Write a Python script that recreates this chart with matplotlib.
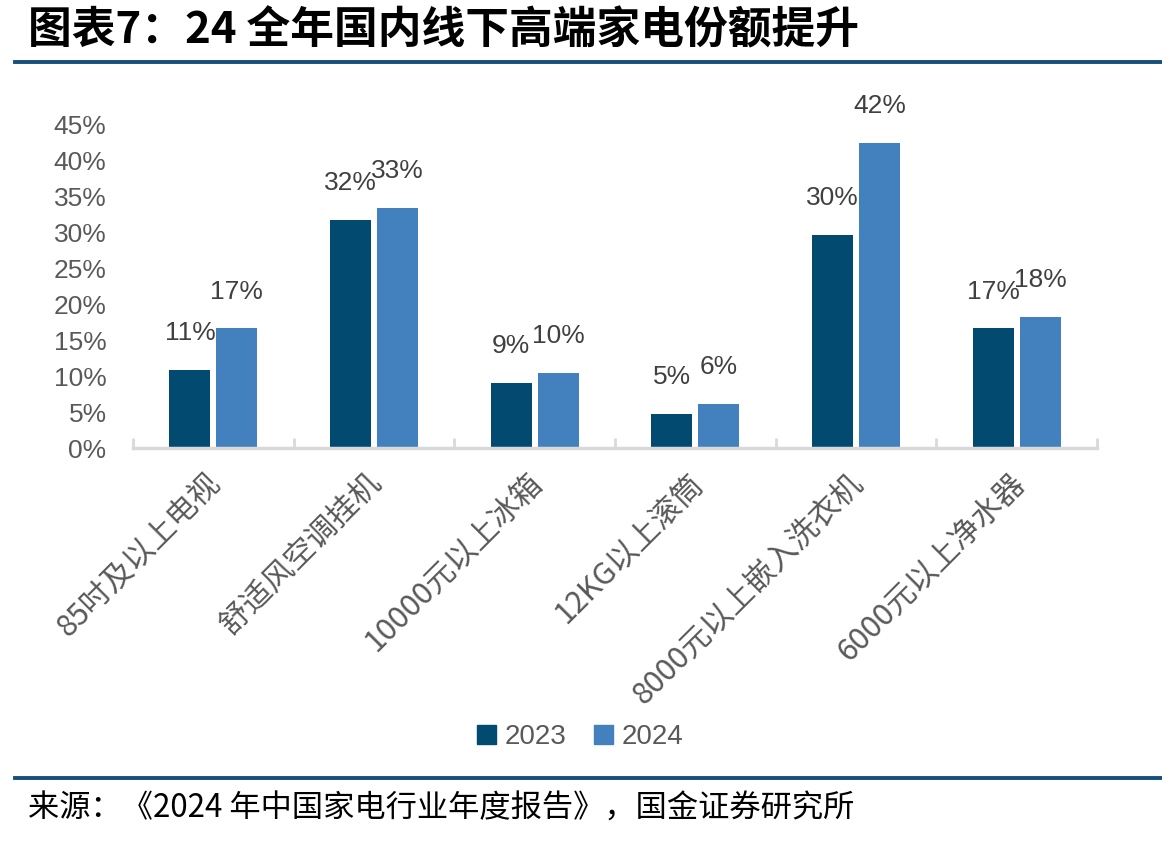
import numpy as np
import matplotlib.pyplot as plt
from matplotlib.lines import Line2D
from matplotlib.patches import Patch

categories = ["85吋及以上电视", "舒适风空调挂机", "10000元以上冰箱", "12KG以上滚筒", "8000元以上嵌入洗衣机", "6000元以上净水器"]
share_2023 = [10.9, 31.7, 9.0, 4.7, 29.6, 16.6]
share_2024 = [16.6, 33.4, 10.4, 6.1, 42.4, 18.2]
series_names = ["2023", "2024"]
yticks = [0, 5, 10, 15, 20, 25, 30, 35, 40, 45]

dark = "#024A70"
light = "#4380BE"
num_font = ["Liberation Sans Narrow", "Liberation Sans", "DejaVu Sans"]
cjk_font = ["Noto Sans CJK SC", "DejaVu Sans"]

fig = plt.figure(figsize=(11.62, 8.41), dpi=100)
ax = fig.add_axes([133/1162, 1-448/841, (1097-133)/1162, (448-124)/841])

x = np.arange(len(categories))
w = 0.255
off = 0.146
b1 = ax.bar(x - off, share_2023, w, color=dark)
b2 = ax.bar(x + off, share_2024, w, color=light)

for bars, vals in [(b1, share_2023), (b2, share_2024)]:
    for rect, v in zip(bars, vals):
        ax.annotate(f"{v:.0f}%", (rect.get_x() + rect.get_width()/2, v),
                    xytext=(0, 26.5), textcoords="offset points",
                    ha="center", va="center", fontsize=19, color="#404040",
                    family=num_font, annotation_clip=False)

ax.set_xlim(-0.5, len(categories) - 0.5)
ax.set_ylim(0, 45)
ax.set_yticks(yticks)
ax.set_yticklabels([f"{t}%" for t in yticks], family=num_font, fontsize=19, color="#595959")
ax.tick_params(axis="y", length=0, pad=19)

ax.set_xticks(x)
ax.set_xticklabels([])
ax.tick_params(axis="x", which="major", length=0)
ax.set_xticks(np.arange(-0.5, len(categories)), minor=True)
ax.tick_params(axis="x", which="minor", direction="in", length=7, width=2, color="#D9D9D9")

for i, c in enumerate(categories):
    ax.annotate(c, (i, 0), xytext=(2, -22), textcoords="offset points",
                rotation=45, rotation_mode="anchor", ha="right", va="center",
                fontsize=22, color="#595959", family=cjk_font, annotation_clip=False)

for s in ["top", "right", "left"]:
    ax.spines[s].set_visible(False)
ax.spines["bottom"].set_color("#D9D9D9")
ax.spines["bottom"].set_linewidth(2.5)

handles = [Patch(color=dark), Patch(color=light)]
leg = fig.legend(handles, series_names, loc="center", bbox_to_anchor=(580/1162, 1-737/841),
                 ncol=2, frameon=False, handlelength=0.7, handleheight=0.7,
                 handletextpad=0.3, columnspacing=1.0,
                 prop={"family": num_font, "size": 20})
for t in leg.get_texts():
    t.set_color("#595959")

fig.text(28/1162, 1-30/841, "图表7：24 全年国内线下高端家电份额提升", fontsize=31.5,
         fontweight="bold", family=cjk_font, ha="left", va="center", color="black")
fig.add_artist(Line2D([15/1162, 1], [1-62/841, 1-62/841], color="#16507A", lw=2.8))
fig.add_artist(Line2D([15/1162, 1], [1-778/841, 1-778/841], color="#16507A", lw=2.8))
fig.text(28/1162, 1-809/841, "来源：《2024 年中国家电行业年度报告》，国金证券研究所", fontsize=22.5,
         family=cjk_font, ha="left", va="center", color="black")

fig.savefig("out.png", dpi=100)
